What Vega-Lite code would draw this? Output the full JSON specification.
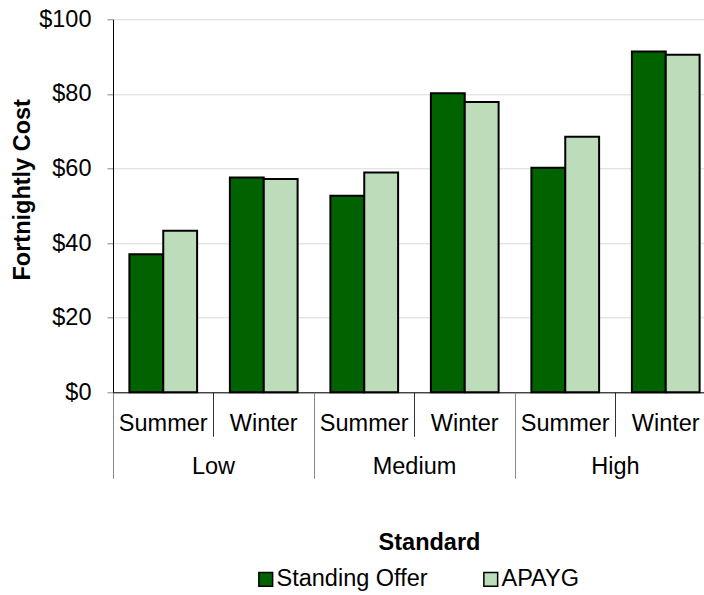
{
  "$schema": "https://vega.github.io/schema/vega-lite/v6.json",
  "width": 603,
  "height": 373,
  "autosize": {"type": "none"},
  "padding": {"left": 113, "top": 19.3, "right": -12, "bottom": 202.7},
  "background": "white",
  "config": {
    "view": {"stroke": null},
    "font": "Liberation Sans",
    "axis": {"labelColor": "black", "titleColor": "black", "labelFont": "Liberation Sans", "titleFont": "Liberation Sans"}
  },
  "data": {
    "values": [
      {"Group": "Low Summer", "Level": "Low", "Series": "Standing Offer", "Cost": 37.0},
      {"Group": "Low Summer", "Level": "Low", "Series": "APAYG", "Cost": 43.3},
      {"Group": "Low Winter", "Level": "Low", "Series": "Standing Offer", "Cost": 57.6},
      {"Group": "Low Winter", "Level": "Low", "Series": "APAYG", "Cost": 57.2},
      {"Group": "Medium Summer", "Level": "Medium", "Series": "Standing Offer", "Cost": 52.7},
      {"Group": "Medium Summer", "Level": "Medium", "Series": "APAYG", "Cost": 58.9},
      {"Group": "Medium Winter", "Level": "Medium", "Series": "Standing Offer", "Cost": 80.2},
      {"Group": "Medium Winter", "Level": "Medium", "Series": "APAYG", "Cost": 77.8},
      {"Group": "High Summer", "Level": "High", "Series": "Standing Offer", "Cost": 60.2},
      {"Group": "High Summer", "Level": "High", "Series": "APAYG", "Cost": 68.5},
      {"Group": "High Winter", "Level": "High", "Series": "Standing Offer", "Cost": 91.4},
      {"Group": "High Winter", "Level": "High", "Series": "APAYG", "Cost": 90.5}
    ]
  },
  "layer": [
    {
      "mark": {"type": "bar", "stroke": "black", "strokeWidth": 2},
      "encoding": {
        "x": {
          "field": "Group", "type": "nominal",
          "sort": ["Low Summer", "Low Winter", "Medium Summer", "Medium Winter", "High Summer", "High Winter"],
          "scale": {"paddingInner": 0, "paddingOuter": 0},
          "axis": {
            "orient": "bottom", "title": null,
            "labelExpr": "split(datum.label, ' ')[1]",
            "labelAngle": 0, "labelFontSize": 23.5, "labelPadding": -25,
            "bandPosition": 0, "tickSize": 44, "tickColor": "#333333", "tickWidth": 1,
            "domainColor": "black", "domainWidth": 1, "grid": false
          }
        },
        "xOffset": {
          "field": "Series", "type": "nominal",
          "sort": ["Standing Offer", "APAYG"],
          "scale": {"paddingInner": 0, "paddingOuter": 0.484}
        },
        "y": {
          "field": "Cost", "type": "quantitative",
          "scale": {"domain": [0, 100], "nice": false},
          "axis": {
            "values": [0, 20, 40, 60, 80, 100],
            "labelExpr": "'$' + datum.value",
            "labelFontSize": 23.5, "labelPadding": 16,
            "tickSize": 6, "tickColor": "#888888",
            "domainColor": "black", "domainWidth": 1,
            "grid": true, "gridColor": "#d9d9d9", "gridWidth": 1,
            "title": "Fortnightly Cost", "titleFontSize": 23.5, "titleFontWeight": "bold",
            "titleAngle": -90, "titleBaseline": "alphabetic", "titleAlign": "center",
            "titleX": -83.5, "titleY": 170
          }
        },
        "color": {
          "field": "Series", "type": "nominal",
          "sort": ["Standing Offer", "APAYG"],
          "scale": {"domain": ["Standing Offer", "APAYG"], "range": ["#006300", "#bddcb9"]},
          "legend": {
            "orient": "none", "legendX": 141, "legendY": 548,
            "direction": "horizontal", "title": null,
            "symbolType": "square", "symbolSize": 190,
            "symbolStrokeColor": "black", "symbolStrokeWidth": 1.5, "symbolOpacity": 1,
            "labelFontSize": 23.5, "labelOffset": -1, "labelColor": "black", "labelLimit": 300,
            "columnPadding": 51, "padding": 0
          }
        }
      }
    },
    {
      "mark": {"type": "bar", "opacity": 0},
      "encoding": {
        "x": {
          "field": "Level", "type": "nominal",
          "sort": ["Low", "Medium", "High"],
          "scale": {"paddingInner": 0, "paddingOuter": 0},
          "axis": {
            "orient": "bottom", "domain": false,
            "labelAngle": 0, "labelFontSize": 23.5, "labelPadding": -24,
            "bandPosition": 0, "tickSize": 86, "tickColor": "#888888", "tickWidth": 1,
            "grid": false,
            "title": "Standard", "titleFontSize": 23.5, "titleFontWeight": "bold",
            "titleBaseline": "alphabetic", "titleAlign": "center",
            "titleX": 316, "titleY": 157.3
          }
        },
        "y": {"field": "Cost", "type": "quantitative"}
      }
    }
  ],
  "resolve": {"scale": {"x": "independent"}, "axis": {"x": "independent"}}
}
